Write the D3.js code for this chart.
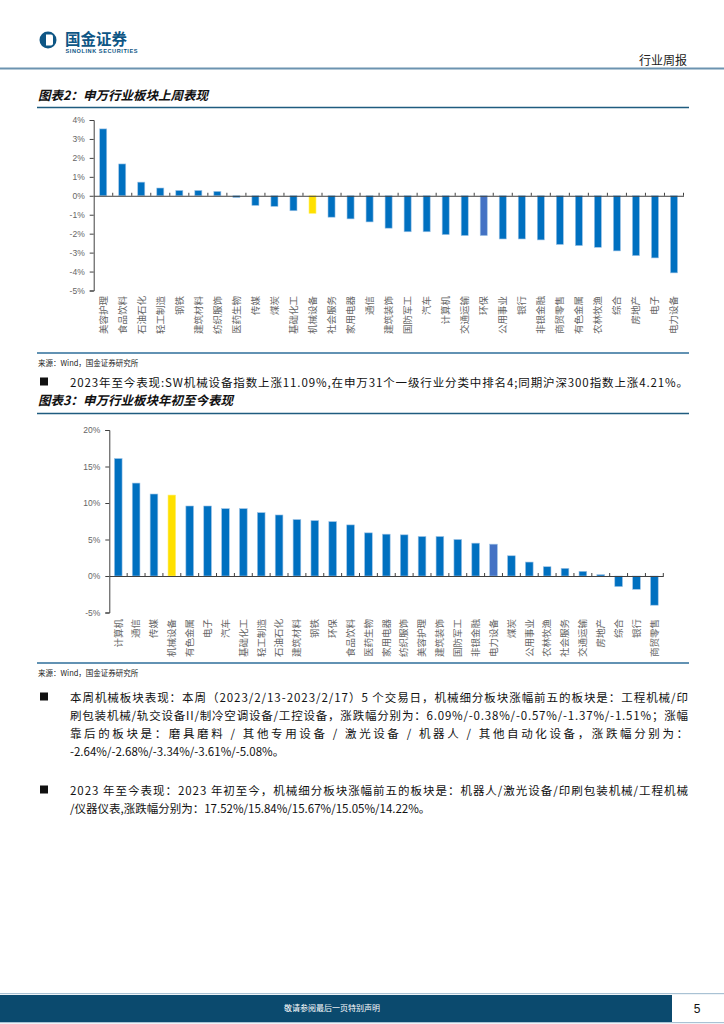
<!DOCTYPE html>
<html><head><meta charset="utf-8">
<script src="https://cdn.jsdelivr.net/npm/d3@7"></script>
<style>body{margin:0;background:#fff}svg{display:block}</style>
</head><body>
<script>
// ---- Data ----
const weekCategories = ["美容护理","食品饮料","石油石化","轻工制造","钢铁","建筑材料","纺织服饰","医药生物","传媒","煤炭","基础化工","机械设备","社会服务","家用电器","通信","建筑装饰","国防军工","汽车","计算机","交通运输","环保","公用事业","银行","非银金融","商贸零售","有色金属","农林牧渔","综合","房地产","电子","电力设备"];
const weekValues = [3.53,1.68,0.72,0.41,0.28,0.28,0.23,-0.09,-0.51,-0.56,-0.79,-0.93,-1.13,-1.22,-1.38,-1.71,-1.90,-1.90,-2.05,-2.10,-2.10,-2.28,-2.28,-2.33,-2.57,-2.63,-2.72,-2.91,-3.16,-3.28,-4.07];
const weekTicks = [4,3,2,1,0,-1,-2,-3,-4,-5];

const ytdCategories = ["计算机","通信","传媒","机械设备","有色金属","电子","汽车","基础化工","轻工制造","石油石化","建筑材料","钢铁","环保","食品饮料","医药生物","家用电器","纺织服饰","美容护理","建筑装饰","国防军工","非银金融","电力设备","煤炭","公用事业","农林牧渔","社会服务","交通运输","房地产","综合","银行","商贸零售"];
const ytdValues = [16.09,12.73,11.23,11.09,9.59,9.59,9.23,9.23,8.68,8.36,7.73,7.59,7.45,7.00,5.91,5.73,5.64,5.41,5.41,5.00,4.50,4.36,2.77,1.91,1.27,1.05,0.64,0.18,-1.45,-1.82,-4.00];
const ytdTicks = [20,15,10,5,0,-5];

const highlight = "机械设备";
const weekAlt = "环保";
const ytdAlt = "电力设备";

// ---- Canvas ----
const W = 724, H = 1024;
const svg = d3.select("body").append("svg").attr("width", W).attr("height", H);
const cjk = "'Noto Sans CJK SC','Noto Sans',sans-serif";
const latin = "'Liberation Sans',Arial,sans-serif";

// Header
const logo = svg.append("g");
logo.append("circle").attr("cx", 48).attr("cy", 40).attr("r", 8.5).attr("fill", "#0E5685");
logo.append("path").attr("d", "M46,34.5 h5 a2,2 0 0 1 2,2 v7 a2,2 0 0 1 -2,2 h-5 z").attr("fill", "#fff");
svg.append("text").attr("x", 65).attr("y", 45).text("国金证券")
  .attr("font-family", cjk).attr("font-size", 15.5).attr("font-weight", "bold").attr("fill", "#0E5685");
svg.append("text").attr("x", 65.5).attr("y", 52.5).text("SINOLINK SECURITIES")
  .attr("font-family", latin).attr("font-size", 5.6).attr("font-weight", "bold").attr("fill", "#0E5685").attr("textLength", 72);
svg.append("text").attr("x", 687).attr("y", 65).attr("text-anchor", "end").text("行业周报")
  .attr("font-family", cjk).attr("font-size", 12).attr("fill", "#222");
svg.append("line").attr("x1", 0).attr("x2", W).attr("y1", 68.5).attr("y2", 68.5).attr("stroke", "#6C93B0").attr("stroke-width", 2);

function hline(y, color, w) {
  svg.append("line").attr("x1", 37).attr("x2", 689).attr("y1", y).attr("y2", y).attr("stroke", color).attr("stroke-width", w || 1.5);
}
function title(y, t) {
  svg.append("text").attr("x", 38).attr("y", y).text(t)
    .attr("font-family", cjk).attr("font-size", 12.5).attr("font-weight", "bold").attr("font-style", "italic").attr("fill", "#111");
}
function source(y) {
  svg.append("text").attr("x", 38).attr("y", y).text("来源：Wind，国金证券研究所")
    .attr("font-family", cjk).attr("font-size", 7.5).attr("fill", "#222");
}

function drawChart(opts) {
  const {cats, vals, ticks, x0, x1, yTop, yBot, dom, pad, alt, labelY, tickFmt} = opts;
  const x = d3.scaleBand().domain(cats).range([x0, x1]).paddingInner(pad).paddingOuter(pad / 2);
  const y = d3.scaleLinear().domain(dom).range([yBot, yTop]);
  const g = svg.append("g");
  // bars
  g.selectAll("rect.bar").data(cats).enter().append("rect")
    .attr("x", d => x(d)).attr("width", x.bandwidth())
    .attr("y", (d, i) => y(Math.max(0, vals[i])))
    .attr("height", (d, i) => Math.abs(y(vals[i]) - y(0)))
    .attr("fill", d => d === highlight ? "#FFE000" : (d === alt ? "#4472C4" : "#0070C0"))
    .attr("stroke", d => d === highlight ? "#FFF27A" : "#9DC3E6").attr("stroke-width", 0.6);
  // y axis
  const ya = d3.axisLeft(y).tickValues(ticks).tickFormat(tickFmt).tickSize(4).tickPadding(5);
  const yg = g.append("g").attr("transform", `translate(${x0},0)`).call(ya);
  yg.select(".domain").attr("stroke", "#404040");
  yg.selectAll(".tick line").attr("stroke", "#404040");
  yg.selectAll(".tick text").attr("font-family", latin).attr("font-size", 8.5).attr("fill", "#666");
  // zero axis
  const xa = d3.axisTop(x).tickSize(3).tickFormat("").tickSizeOuter(0);
  const xg = g.append("g").attr("transform", `translate(0,${y(0)})`).call(xa);
  xg.select(".domain").attr("stroke", "#404040");
  xg.selectAll(".tick line").attr("stroke", "#404040").attr("transform", `translate(${x.step() / 2},0)`);
  // category labels
  g.selectAll("text.cat").data(cats).enter().append("text")
    .attr("transform", d => `translate(${x(d) + x.bandwidth() / 2 + 3.3},${labelY}) rotate(-90)`)
    .attr("text-anchor", "end").text(d => d)
    .attr("font-family", cjk).attr("font-size", 9.5).attr("fill", "#666");
}

// Chart 2
title(100, "图表2：申万行业板块上周表现");
hline(107.5, "#1F5C7F");
drawChart({cats: weekCategories, vals: weekValues, ticks: weekTicks, x0: 93.7, x1: 683.5, yTop: 120, yBot: 290.5,
  dom: [-5, 4], pad: 0.63, alt: weekAlt, labelY: 296, tickFmt: d => d + "%"});
hline(353, "#2E6E9A");
source(366);

// bullet
function bullet(y) {
  svg.append("rect").attr("x", 40).attr("y", y - 4.5).attr("width", 8).attr("height", 8).attr("fill", "#111");
}
function line(y, t, justify) {
  const el = svg.append("text").attr("x", 70).attr("y", y + 4.5).text(t)
    .attr("font-family", cjk).attr("font-size", 11.5).attr("fill", "#111");
  if (justify) el.attr("textLength", 618).attr("lengthAdjust", "spacing");
}
bullet(382);
line(382, "2023年至今表现:SW机械设备指数上涨11.09%,在申万31个一级行业分类中排名4;同期沪深300指数上涨4.21%。", true);

// Chart 3
title(405, "图表3：申万行业板块年初至今表现");
hline(413.5, "#1F5C7F");
drawChart({cats: ytdCategories, vals: ytdValues, ticks: ytdTicks, x0: 109.3, x1: 663.3, yTop: 430, yBot: 612.5,
  dom: [-5, 20], pad: 0.57, alt: ytdAlt, labelY: 619, tickFmt: d => d + "%"});
hline(663, "#2E6E9A");
source(676);

bullet(697);
line(697, "本周机械板块表现：本周（2023/2/13-2023/2/17）5 个交易日，机械细分板块涨幅前五的板块是：工程机械/印", true);
line(715, "刷包装机械/轨交设备II/制冷空调设备/工控设备，涨跌幅分别为：6.09%/-0.38%/-0.57%/-1.37%/-1.51%；涨幅", true);
line(733, "靠后的板块是：磨具磨料 / 其他专用设备 / 激光设备 / 机器人 / 其他自动化设备，涨跌幅分别为：", true);
line(751, "-2.64%/-2.68%/-3.34%/-3.61%/-5.08%。", false);
bullet(790);
line(790, "2023 年至今表现：2023 年初至今，机械细分板块涨幅前五的板块是：机器人/激光设备/印刷包装机械/工程机械", true);
line(808, "/仪器仪表,涨跌幅分别为：17.52%/15.84%/15.67%/15.05%/14.22%。", false);

// Footer
svg.append("rect").attr("x", 0).attr("y", 993).attr("width", W).attr("height", 1.2).attr("fill", "#A9C2D4");
svg.append("rect").attr("x", 0).attr("y", 995).attr("width", 672).attr("height", 27).attr("fill", "#0B4A6E");
svg.append("rect").attr("x", 0).attr("y", 1022).attr("width", W).attr("height", 1.2).attr("fill", "#A9C2D4");
svg.append("text").attr("x", 332).attr("y", 1011).attr("text-anchor", "middle").text("敬请参阅最后一页特别声明")
  .attr("font-family", cjk).attr("font-size", 8).attr("fill", "#fff");
svg.append("text").attr("x", 697).attr("y", 1013).attr("text-anchor", "middle").text("5")
  .attr("font-family", latin).attr("font-size", 12).attr("fill", "#111");
</script>
</body></html>
